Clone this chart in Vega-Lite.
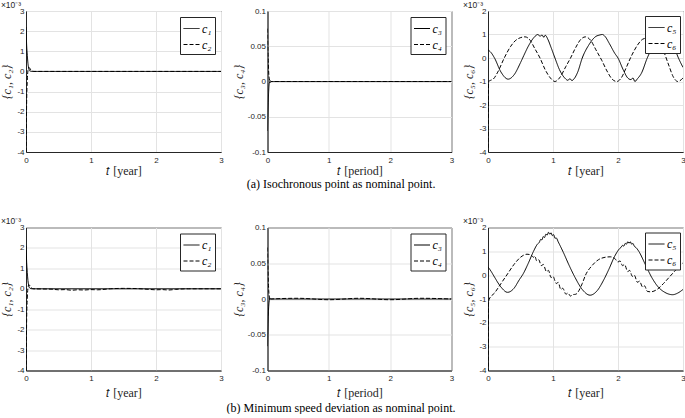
{
"$schema":"https://vega.github.io/schema/vega-lite/v6.json",
"background":"white",
"padding":{"left":0,"top":0,"right":0,"bottom":0},
"datasets":{
"a1":[{"s":"c₁","t":0,"v":2.2},{"s":"c₁","t":0.005,"v":1.75},{"s":"c₁","t":0.01,"v":1.3},{"s":"c₁","t":0.02,"v":0.8},{"s":"c₁","t":0.03,"v":0.4},{"s":"c₁","t":0.045,"v":0.12},{"s":"c₁","t":0.06,"v":0.03},{"s":"c₁","t":0.1,"v":0},{"s":"c₁","t":3,"v":0},
{"s":"c₂","t":0,"v":-4.6},{"s":"c₂","t":0.005,"v":-3},{"s":"c₂","t":0.01,"v":-1.5},{"s":"c₂","t":0.02,"v":-0.45},{"s":"c₂","t":0.03,"v":0.05},{"s":"c₂","t":0.045,"v":0.2},{"s":"c₂","t":0.06,"v":0.15},{"s":"c₂","t":0.08,"v":0.05},{"s":"c₂","t":0.12,"v":0},{"s":"c₂","t":3,"v":0}],
"a2":[{"s":"c₃","t":0,"v":-0.07},{"s":"c₃","t":0.005,"v":-0.05},{"s":"c₃","t":0.012,"v":-0.03},{"s":"c₃","t":0.02,"v":-0.012},{"s":"c₃","t":0.03,"v":-0.002},{"s":"c₃","t":0.045,"v":0.001},{"s":"c₃","t":0.06,"v":0},{"s":"c₃","t":3,"v":0},
{"s":"c₄","t":0,"v":0.075},{"s":"c₄","t":0.005,"v":0.05},{"s":"c₄","t":0.012,"v":0.03},{"s":"c₄","t":0.02,"v":0.012},{"s":"c₄","t":0.03,"v":0.004},{"s":"c₄","t":0.04,"v":-0.002},{"s":"c₄","t":0.055,"v":0},{"s":"c₄","t":3,"v":0}],
"a3":[{"s":"c₅","t":0,"v":0.35},{"s":"c₅","t":0.05,"v":0.22},{"s":"c₅","t":0.1,"v":0},{"s":"c₅","t":0.2,"v":-0.6},{"s":"c₅","t":0.31,"v":-0.9},{"s":"c₅","t":0.4,"v":-0.72},{"s":"c₅","t":0.5,"v":-0.2},{"s":"c₅","t":0.55,"v":0.1},{"s":"c₅","t":0.62,"v":0.5},{"s":"c₅","t":0.7,"v":0.85},{"s":"c₅","t":0.77,"v":1.0},{"s":"c₅","t":0.8,"v":0.92},{"s":"c₅","t":0.83,"v":0.98},{"s":"c₅","t":0.86,"v":0.88},{"s":"c₅","t":0.88,"v":0.97},{"s":"c₅","t":0.92,"v":0.8},{"s":"c₅","t":0.97,"v":0.45},{"s":"c₅","t":1.03,"v":0},{"s":"c₅","t":1.1,"v":-0.5},{"s":"c₅","t":1.18,"v":-0.85},{"s":"c₅","t":1.23,"v":-0.95},{"s":"c₅","t":1.26,"v":-0.88},{"s":"c₅","t":1.29,"v":-0.96},{"s":"c₅","t":1.32,"v":-0.9},{"s":"c₅","t":1.38,"v":-0.6},{"s":"c₅","t":1.45,"v":0},{"s":"c₅","t":1.55,"v":0.55},{"s":"c₅","t":1.65,"v":0.9},{"s":"c₅","t":1.72,"v":0.98},{"s":"c₅","t":1.76,"v":1.0},{"s":"c₅","t":1.8,"v":0.92},{"s":"c₅","t":1.87,"v":0.6},{"s":"c₅","t":1.95,"v":0.2},{"s":"c₅","t":2.0,"v":0},{"s":"c₅","t":2.08,"v":-0.5},{"s":"c₅","t":2.15,"v":-0.85},{"s":"c₅","t":2.2,"v":-0.92},{"s":"c₅","t":2.23,"v":-0.85},{"s":"c₅","t":2.26,"v":-1.0},{"s":"c₅","t":2.3,"v":-0.88},{"s":"c₅","t":2.36,"v":-0.65},{"s":"c₅","t":2.45,"v":0},{"s":"c₅","t":2.55,"v":0.55},{"s":"c₅","t":2.65,"v":0.85},{"s":"c₅","t":2.72,"v":0.95},{"s":"c₅","t":2.78,"v":0.88},{"s":"c₅","t":2.85,"v":0.55},{"s":"c₅","t":2.93,"v":0},{"s":"c₅","t":3.0,"v":-0.4},
{"s":"c₆","t":0,"v":-4.6},{"s":"c₆","t":0.01,"v":-1.0},{"s":"c₆","t":0.04,"v":-0.95},{"s":"c₆","t":0.08,"v":-0.9},{"s":"c₆","t":0.15,"v":-0.6},{"s":"c₆","t":0.25,"v":0},{"s":"c₆","t":0.35,"v":0.5},{"s":"c₆","t":0.45,"v":0.8},{"s":"c₆","t":0.57,"v":0.9},{"s":"c₆","t":0.65,"v":0.75},{"s":"c₆","t":0.72,"v":0.4},{"s":"c₆","t":0.8,"v":0},{"s":"c₆","t":0.88,"v":-0.5},{"s":"c₆","t":0.96,"v":-0.85},{"s":"c₆","t":1.03,"v":-1.0},{"s":"c₆","t":1.1,"v":-0.85},{"s":"c₆","t":1.2,"v":-0.35},{"s":"c₆","t":1.27,"v":0},{"s":"c₆","t":1.35,"v":0.45},{"s":"c₆","t":1.43,"v":0.8},{"s":"c₆","t":1.5,"v":0.9},{"s":"c₆","t":1.58,"v":0.75},{"s":"c₆","t":1.66,"v":0.35},{"s":"c₆","t":1.75,"v":-0.1},{"s":"c₆","t":1.83,"v":-0.55},{"s":"c₆","t":1.91,"v":-0.9},{"s":"c₆","t":1.98,"v":-1.0},{"s":"c₆","t":2.05,"v":-0.85},{"s":"c₆","t":2.12,"v":-0.45},{"s":"c₆","t":2.2,"v":0.05},{"s":"c₆","t":2.3,"v":0.55},{"s":"c₆","t":2.38,"v":0.8},{"s":"c₆","t":2.45,"v":0.85},{"s":"c₆","t":2.55,"v":0.8},{"s":"c₆","t":2.62,"v":0.72},{"s":"c₆","t":2.7,"v":0.3},{"s":"c₆","t":2.78,"v":-0.3},{"s":"c₆","t":2.85,"v":-0.8},{"s":"c₆","t":2.92,"v":-1.0},{"s":"c₆","t":3.0,"v":-0.85}],
"b1":[{"s":"c₁","t":0,"v":2.1},{"s":"c₁","t":0.005,"v":1.7},{"s":"c₁","t":0.01,"v":1.3},{"s":"c₁","t":0.02,"v":0.8},{"s":"c₁","t":0.03,"v":0.4},{"s":"c₁","t":0.045,"v":0.12},{"s":"c₁","t":0.06,"v":0.03},{"s":"c₁","t":0.1,"v":0},{"s":"c₁","t":3,"v":0},
{"s":"c₂","t":0,"v":-4.6},{"s":"c₂","t":0.005,"v":-3},{"s":"c₂","t":0.01,"v":-1.5},{"s":"c₂","t":0.02,"v":-0.45},{"s":"c₂","t":0.03,"v":0.05},{"s":"c₂","t":0.045,"v":0.2},{"s":"c₂","t":0.06,"v":0.15},{"s":"c₂","t":0.08,"v":0.05},{"s":"c₂","t":0.12,"v":0},{"s":"c₂","t":0.4,"v":-0.02},{"s":"c₂","t":0.5,"v":-0.05},{"s":"c₂","t":0.6,"v":-0.04},{"s":"c₂","t":0.7,"v":-0.07},{"s":"c₂","t":0.8,"v":-0.05},{"s":"c₂","t":0.9,"v":-0.06},{"s":"c₂","t":1.0,"v":-0.04},{"s":"c₂","t":1.1,"v":-0.05},{"s":"c₂","t":1.3,"v":0},{"s":"c₂","t":1.5,"v":0.02},{"s":"c₂","t":1.7,"v":0.01},{"s":"c₂","t":1.9,"v":-0.03},{"s":"c₂","t":2.0,"v":-0.05},{"s":"c₂","t":2.1,"v":-0.04},{"s":"c₂","t":2.2,"v":-0.06},{"s":"c₂","t":2.3,"v":-0.03},{"s":"c₂","t":2.5,"v":0},{"s":"c₂","t":3,"v":0}],
"b2":[{"s":"c₃","t":0,"v":-0.066},{"s":"c₃","t":0.005,"v":-0.045},{"s":"c₃","t":0.012,"v":-0.025},{"s":"c₃","t":0.02,"v":-0.01},{"s":"c₃","t":0.03,"v":-0.002},{"s":"c₃","t":0.045,"v":0.001},{"s":"c₃","t":0.06,"v":0},{"s":"c₃","t":3,"v":0},
{"s":"c₄","t":0,"v":0.072},{"s":"c₄","t":0.005,"v":0.05},{"s":"c₄","t":0.012,"v":0.028},{"s":"c₄","t":0.02,"v":0.012},{"s":"c₄","t":0.03,"v":0.004},{"s":"c₄","t":0.04,"v":-0.002},{"s":"c₄","t":0.055,"v":0},{"s":"c₄","t":0.5,"v":0.001},{"s":"c₄","t":1.0,"v":-0.001},{"s":"c₄","t":1.5,"v":0.001},{"s":"c₄","t":2.0,"v":-0.001},{"s":"c₄","t":2.5,"v":0.001},{"s":"c₄","t":3,"v":0}],
"b3":[{"s":"c₅","t":0,"v":0.35},{"s":"c₅","t":0.05,"v":0.15},{"s":"c₅","t":0.1,"v":-0.08},{"s":"c₅","t":0.2,"v":-0.5},{"s":"c₅","t":0.3,"v":-0.72},{"s":"c₅","t":0.4,"v":-0.55},{"s":"c₅","t":0.48,"v":-0.2},{"s":"c₅","t":0.54,"v":0.05},{"s":"c₅","t":0.62,"v":0.5},{"s":"c₅","t":0.7,"v":1.0},{"s":"c₅","t":0.76,"v":1.3},{"s":"c₅","t":0.79,"v":1.38},{"s":"c₅","t":0.81,"v":1.5},{"s":"c₅","t":0.83,"v":1.48},{"s":"c₅","t":0.85,"v":1.62},{"s":"c₅","t":0.87,"v":1.58},{"s":"c₅","t":0.89,"v":1.72},{"s":"c₅","t":0.91,"v":1.68},{"s":"c₅","t":0.93,"v":1.8},{"s":"c₅","t":0.95,"v":1.72},{"s":"c₅","t":0.97,"v":1.78},{"s":"c₅","t":0.99,"v":1.66},{"s":"c₅","t":1.01,"v":1.7},{"s":"c₅","t":1.03,"v":1.55},{"s":"c₅","t":1.05,"v":1.56},{"s":"c₅","t":1.08,"v":1.4},{"s":"c₅","t":1.16,"v":0.95},{"s":"c₅","t":1.25,"v":0.4},{"s":"c₅","t":1.34,"v":-0.1},{"s":"c₅","t":1.45,"v":-0.6},{"s":"c₅","t":1.57,"v":-0.84},{"s":"c₅","t":1.68,"v":-0.65},{"s":"c₅","t":1.78,"v":-0.2},{"s":"c₅","t":1.86,"v":0.25},{"s":"c₅","t":1.95,"v":0.8},{"s":"c₅","t":2.02,"v":1.1},{"s":"c₅","t":2.05,"v":1.18},{"s":"c₅","t":2.07,"v":1.25},{"s":"c₅","t":2.09,"v":1.22},{"s":"c₅","t":2.11,"v":1.33},{"s":"c₅","t":2.13,"v":1.3},{"s":"c₅","t":2.15,"v":1.4},{"s":"c₅","t":2.17,"v":1.34},{"s":"c₅","t":2.19,"v":1.4},{"s":"c₅","t":2.21,"v":1.3},{"s":"c₅","t":2.23,"v":1.33},{"s":"c₅","t":2.25,"v":1.22},{"s":"c₅","t":2.28,"v":1.15},{"s":"c₅","t":2.32,"v":1.0},{"s":"c₅","t":2.42,"v":0.45},{"s":"c₅","t":2.52,"v":-0.1},{"s":"c₅","t":2.62,"v":-0.5},{"s":"c₅","t":2.72,"v":-0.72},{"s":"c₅","t":2.84,"v":-0.82},{"s":"c₅","t":2.92,"v":-0.75},{"s":"c₅","t":3.0,"v":-0.6},
{"s":"c₆","t":0,"v":-4.6},{"s":"c₆","t":0.008,"v":-1.2},{"s":"c₆","t":0.02,"v":-1.0},{"s":"c₆","t":0.1,"v":-0.75},{"s":"c₆","t":0.2,"v":-0.35},{"s":"c₆","t":0.3,"v":0.05},{"s":"c₆","t":0.4,"v":0.45},{"s":"c₆","t":0.5,"v":0.75},{"s":"c₆","t":0.6,"v":0.88},{"s":"c₆","t":0.66,"v":0.85},{"s":"c₆","t":0.7,"v":0.75},{"s":"c₆","t":0.72,"v":0.8},{"s":"c₆","t":0.75,"v":0.6},{"s":"c₆","t":0.78,"v":0.65},{"s":"c₆","t":0.82,"v":0.4},{"s":"c₆","t":0.85,"v":0.45},{"s":"c₆","t":0.9,"v":0.15},{"s":"c₆","t":0.93,"v":0.2},{"s":"c₆","t":0.97,"v":-0.1},{"s":"c₆","t":1.0,"v":-0.05},{"s":"c₆","t":1.05,"v":-0.35},{"s":"c₆","t":1.08,"v":-0.3},{"s":"c₆","t":1.12,"v":-0.6},{"s":"c₆","t":1.15,"v":-0.55},{"s":"c₆","t":1.2,"v":-0.8},{"s":"c₆","t":1.23,"v":-0.75},{"s":"c₆","t":1.27,"v":-0.88},{"s":"c₆","t":1.3,"v":-0.82},{"s":"c₆","t":1.35,"v":-0.8},{"s":"c₆","t":1.45,"v":-0.35},{"s":"c₆","t":1.5,"v":0},{"s":"c₆","t":1.6,"v":0.4},{"s":"c₆","t":1.7,"v":0.65},{"s":"c₆","t":1.8,"v":0.75},{"s":"c₆","t":1.88,"v":0.77},{"s":"c₆","t":1.95,"v":0.7},{"s":"c₆","t":2.0,"v":0.55},{"s":"c₆","t":2.03,"v":0.6},{"s":"c₆","t":2.07,"v":0.4},{"s":"c₆","t":2.1,"v":0.45},{"s":"c₆","t":2.15,"v":0.15},{"s":"c₆","t":2.18,"v":0.2},{"s":"c₆","t":2.22,"v":-0.05},{"s":"c₆","t":2.25,"v":0},{"s":"c₆","t":2.3,"v":-0.3},{"s":"c₆","t":2.33,"v":-0.25},{"s":"c₆","t":2.38,"v":-0.5},{"s":"c₆","t":2.41,"v":-0.45},{"s":"c₆","t":2.45,"v":-0.68},{"s":"c₆","t":2.5,"v":-0.7},{"s":"c₆","t":2.6,"v":-0.6},{"s":"c₆","t":2.7,"v":-0.35},{"s":"c₆","t":2.8,"v":-0.05},{"s":"c₆","t":2.9,"v":0.25},{"s":"c₆","t":3.0,"v":0.52}]
},
"spacing":26.5,
"resolve":{"scale":{"x":"independent","y":"independent","strokeDash":"independent"},"legend":{"strokeDash":"independent"}},
"vconcat":[
{"spacing":7.5,
 "title":{"text":"(a) Isochronous point as nominal point.","orient":"bottom","anchor":"middle","font":"Liberation Serif","fontSize":12,"color":"black","offset":2,"dx":-2},
 "resolve":{"scale":{"x":"independent","y":"independent","strokeDash":"independent"},"legend":{"strokeDash":"independent"}},
 "hconcat":[
  {"width":195,"height":141,"data":{"name":"a1"},
   "title":{"text":"×10⁻³"},
   "mark":{"type":"line","clip":true,"interpolate":"monotone","strokeWidth":1,"color":"black"},
   "encoding":{"x":{"field":"t","type":"quantitative","scale":{"domain":[0,3],"nice":false},"axis":{"values":[0,1,2,3],"title":"𝑡 [year]"}},
    "y":{"field":"v","type":"quantitative","scale":{"domain":[-4,3],"nice":false},"axis":{"values":[-4,-3,-2,-1,0,1,2,3],"title":"{c₁, c₂}"}},
    "strokeDash":{"field":"s","type":"nominal","scale":{"domain":["c₁","c₂"],"range":[[1,0],[4,2]]},"legend":{"title":null}}}},
  {"width":184,"height":141,"data":{"name":"a2"},
   "mark":{"type":"line","clip":true,"interpolate":"monotone","strokeWidth":1,"color":"black"},
   "encoding":{"x":{"field":"t","type":"quantitative","scale":{"domain":[0,3],"nice":false},"axis":{"values":[0,1,2,3],"title":"𝑡 [period]"}},
    "y":{"field":"v","type":"quantitative","scale":{"domain":[-0.1,0.1],"nice":false},"axis":{"values":[-0.1,-0.05,0,0.05,0.1],"title":"{c₃, c₄}","titlePadding":1.5}},
    "strokeDash":{"field":"s","type":"nominal","scale":{"domain":["c₃","c₄"],"range":[[1,0],[4,2]]},"legend":{"title":null}}}},
  {"width":195,"height":141,"data":{"name":"a3"},
   "title":{"text":"×10⁻³"},
   "mark":{"type":"line","clip":true,"interpolate":"monotone","strokeWidth":1,"color":"black"},
   "encoding":{"x":{"field":"t","type":"quantitative","scale":{"domain":[0,3],"nice":false},"axis":{"values":[0,1,2,3],"title":"𝑡 [year]"}},
    "y":{"field":"v","type":"quantitative","scale":{"domain":[-4,2],"nice":false},"axis":{"values":[-4,-3,-2,-1,0,1,2],"title":"{c₅, c₆}"}},
    "strokeDash":{"field":"s","type":"nominal","scale":{"domain":["c₅","c₆"],"range":[[1,0],[4,2]]},"legend":{"title":null,"orient":"none","legendX":157,"legendY":5}}}}
 ]},
{"spacing":7.5,
 "title":{"text":"(b) Minimum speed deviation as nominal point.","orient":"bottom","anchor":"middle","font":"Liberation Serif","fontSize":12,"color":"black","offset":4,"dx":-2},
 "resolve":{"scale":{"x":"independent","y":"independent","strokeDash":"independent"},"legend":{"strokeDash":"independent"}},
 "hconcat":[
  {"width":195,"height":143,"data":{"name":"b1"},
   "title":{"text":"×10⁻³"},
   "mark":{"type":"line","clip":true,"interpolate":"monotone","strokeWidth":1,"color":"black"},
   "encoding":{"x":{"field":"t","type":"quantitative","scale":{"domain":[0,3],"nice":false},"axis":{"values":[0,1,2,3],"title":"𝑡 [year]","titlePadding":5}},
    "y":{"field":"v","type":"quantitative","scale":{"domain":[-4,3],"nice":false},"axis":{"values":[-4,-3,-2,-1,0,1,2,3],"title":"{c₁, c₂}"}},
    "strokeDash":{"field":"s","type":"nominal","scale":{"domain":["c₁","c₂"],"range":[[1,0],[4,2]]},"legend":{"title":null}}}},
  {"width":184,"height":143,"data":{"name":"b2"},
   "mark":{"type":"line","clip":true,"interpolate":"monotone","strokeWidth":1,"color":"black"},
   "encoding":{"x":{"field":"t","type":"quantitative","scale":{"domain":[0,3],"nice":false},"axis":{"values":[0,1,2,3],"title":"𝑡 [period]","titlePadding":5}},
    "y":{"field":"v","type":"quantitative","scale":{"domain":[-0.1,0.1],"nice":false},"axis":{"values":[-0.1,-0.05,0,0.05,0.1],"title":"{c₃, c₄}","titlePadding":1.5}},
    "strokeDash":{"field":"s","type":"nominal","scale":{"domain":["c₃","c₄"],"range":[[1,0],[4,2]]},"legend":{"title":null}}}},
  {"width":195,"height":143,"data":{"name":"b3"},
   "title":{"text":"×10⁻³"},
   "mark":{"type":"line","clip":true,"interpolate":"monotone","strokeWidth":1,"color":"black"},
   "encoding":{"x":{"field":"t","type":"quantitative","scale":{"domain":[0,3],"nice":false},"axis":{"values":[0,1,2,3],"title":"𝑡 [year]","titlePadding":5}},
    "y":{"field":"v","type":"quantitative","scale":{"domain":[-4,2],"nice":false},"axis":{"values":[-4,-3,-2,-1,0,1,2],"title":"{c₅, c₆}"}},
    "strokeDash":{"field":"s","type":"nominal","scale":{"domain":["c₅","c₆"],"range":[[1,0],[4,2]]},"legend":{"title":null,"orient":"none","legendX":157,"legendY":5}}}}
 ]}
],
"config":{
 "font":"Liberation Sans",
 "view":{"stroke":"#262626","strokeWidth":1},
 "axis":{"domainColor":"#262626","gridColor":"#e3e3e3","ticks":false,"labelFont":"Liberation Sans","labelFontSize":8,"labelColor":"#262626","labelFlush":false,"labelOverlap":false,"labelPadding":2,"labelExpr":"'' + datum.value","titleFont":"Liberation Serif","titleFontSize":12,"titleFontWeight":"normal","titleColor":"#262626"},
 "axisX":{"titlePadding":1,"labelPadding":4},
 "axisY":{"titleFontStyle":"italic","titlePadding":3},
 "title":{"anchor":"start","fontSize":8.5,"font":"Liberation Sans","fontWeight":"normal","color":"#262626","offset":-2},
 "legend":{"orient":"top-right","offset":6,"strokeColor":"#262626","fillColor":"white","padding":3,"cornerRadius":0,"labelFont":"Liberation Serif","labelFontStyle":"italic","labelFontSize":12,"labelColor":"black","symbolSize":256,"symbolStrokeWidth":1,"symbolStrokeColor":"black","rowPadding":1,"labelOffset":2}
}
}
